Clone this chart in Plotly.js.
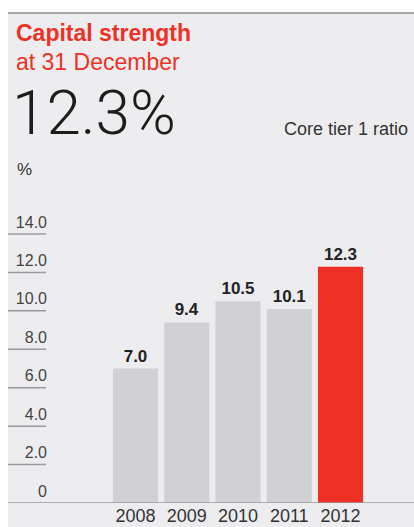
<!DOCTYPE html>
<html>
<head>
<meta charset="utf-8">
<script src="https://cdn.plot.ly/plotly-3.0.1.min.js"></script>
<style>
html,body{margin:0;padding:0;background:#fff;}
#chart{width:414px;height:527px;}
</style>
</head>
<body>
<div id="chart"></div>
<script>
// ---- data ----
const years = ["2008", "2009", "2010", "2011", "2012"];
const ratios = [7.0, 9.4, 10.5, 10.1, 12.3];
const barColors = ["#d1d1d3", "#d1d1d3", "#d1d1d3", "#d1d1d3", "#ee3124"];
const yTickVals = [0, 2, 4, 6, 8, 10, 12, 14];
const yTickText = ["0", "2.0", "4.0", "6.0", "8.0", "10.0", "12.0", "14.0"];

// ---- layout geometry (pixels) ----
const W = 414, H = 527;
const L = 48, R = 0, T = 200, B = 24;
const pw = W - L - R, ph = H - T - B;
const px = x => (x - L) / pw;
const py = y => (H - B - y) / ph;

const FONT = "Liberation Sans, Arial, sans-serif";
const RED = "#ee3124";
const GREY_BG = "#ededf0";
const LINE = "#9a9a9c";

const shapes = [
  {type: "rect", xref: "paper", yref: "paper", x0: px(8), x1: px(W), y0: py(H), y1: py(13),
   fillcolor: GREY_BG, line: {width: 0}, layer: "below"},
  {type: "line", xref: "paper", yref: "paper", x0: px(8), x1: px(W), y0: py(13), y1: py(13),
   line: {color: "#8c8c8e", width: 1.5}, layer: "above"}
];
yTickVals.forEach(v => {
  shapes.push({type: "line", xref: "paper", yref: "y", x0: px(8), x1: v === 0 ? px(W) : px(46),
    y0: v, y1: v, line: {color: LINE, width: 1.5}, layer: "above"});
});

const annotations = [
  {text: "<b>Capital strength</b>", x: px(15), y: py(33), xanchor: "left", yanchor: "middle",
   font: {family: FONT, size: 23, color: RED}},
  {text: "at 31 December", x: px(15), y: py(62), xanchor: "left", yanchor: "middle",
   font: {family: FONT, size: 23, color: RED}},
  {text: "12.3%", x: px(11), y: py(113), xanchor: "left", yanchor: "middle",
   font: {family: "Roboto, sans-serif", size: 62, color: "#1c1c1c", weight: 300}},
  {text: "Core tier 1 ratio", x: px(409), y: py(129), xanchor: "right", yanchor: "middle",
   font: {family: FONT, size: 18, color: "#333"}},
  {text: "%", x: px(16), y: py(169), xanchor: "left", yanchor: "middle",
   font: {family: FONT, size: 17, color: "#333"}}
].map(a => Object.assign({xref: "paper", yref: "paper", showarrow: false, borderpad: 0}, a));

const trace = {
  type: "bar",
  x: years,
  y: ratios,
  marker: {color: barColors, line: {width: 0}},
  text: ratios.map(v => v.toFixed(1)),
  texttemplate: "<b>%{text}</b>",
  textposition: "outside",
  cliponaxis: false,
  textfont: {family: FONT, size: 17, color: "#222"},
  hoverinfo: "skip"
};

const pitch = 51.25;
const layout = {
  width: W, height: H,
  margin: {l: L, r: R, t: T, b: B, pad: 0},
  paper_bgcolor: "#ffffff",
  plot_bgcolor: "rgba(0,0,0,0)",
  showlegend: false,
  bargap: 0.12,
  xaxis: {
    type: "category",
    range: [-(135.5 - L) / pitch, 4 + (W - 340.5) / pitch],
    showgrid: false, zeroline: false, showline: false, ticks: "",
    tickfont: {family: FONT, size: 18, color: "#333"},
    fixedrange: true
  },
  yaxis: {
    range: [0, ph / 19.214],
    tickmode: "array", tickvals: yTickVals, ticktext: yTickText,
    showgrid: false, zeroline: false, showline: false, ticks: "",
    ticklabelshift: -12,
    tickfont: {family: FONT, size: 16, color: "#444"},
    fixedrange: true
  },
  shapes: shapes,
  annotations: annotations
};

Plotly.newPlot("chart", [trace], layout, {displayModeBar: false, staticPlot: true});
</script>
</body>
</html>
